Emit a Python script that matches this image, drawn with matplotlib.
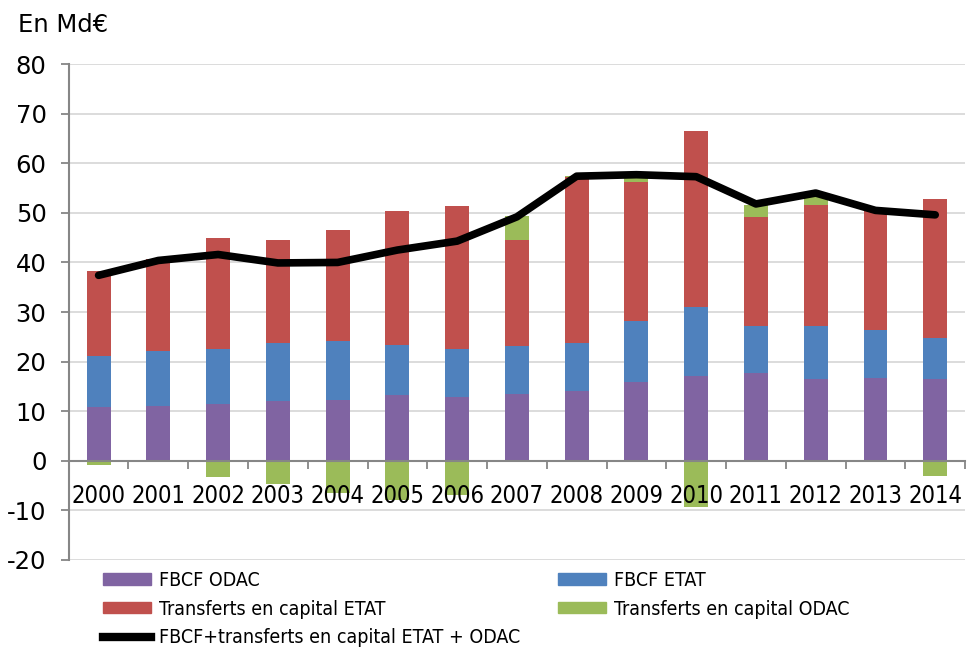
import matplotlib.pyplot as plt
from matplotlib.patches import Patch
from matplotlib.lines import Line2D
import numpy as np

plt.rcParams['axes.unicode_minus'] = False

years = ['2000', '2001', '2002', '2003', '2004', '2005', '2006', '2007',
         '2008', '2009', '2010', '2011', '2012', '2013', '2014']

# values in Md€
fbcf_odac = [10.8, 11.0, 11.4, 12.0, 12.3, 13.2, 12.9, 13.5, 14.0, 15.8, 17.0, 17.6, 16.4, 16.6, 16.4]
fbcf_etat = [10.4, 11.1, 11.1, 11.7, 11.8, 10.1, 9.6, 9.6, 9.7, 12.3, 14.1, 9.5, 10.7, 9.7, 8.3]
transf_etat = [17.0, 18.5, 22.4, 20.9, 22.4, 27.0, 28.9, 21.4, 33.6, 28.2, 35.5, 22.1, 24.5, 24.5, 28.0]
transf_odac = [-0.8, -0.2, -3.3, -4.7, -6.5, -7.9, -7.0, 4.8, 0.1, 1.4, -9.4, 2.4, 2.4, -0.3, -3.0]
total = [37.4, 40.4, 41.6, 39.9, 40.0, 42.5, 44.3, 49.2, 57.4, 57.7, 57.3, 51.8, 54.0, 50.5, 49.6]

c_purple = '#8064A2'
c_blue = '#4F81BD'
c_red = '#C0504D'
c_green = '#9BBB59'

x = np.arange(len(years))
w = 0.4

fig = plt.figure(figsize=(9.68, 6.48), dpi=100)
ax = fig.add_axes([0.071, 0.136, 0.926, 0.765])

ax.set_axisbelow(True)
ax.yaxis.grid(True, color='#D9D9D9', linewidth=1.3)

b1 = np.array(fbcf_odac)
b2 = b1 + np.array(fbcf_etat)
ax.bar(x, fbcf_odac, w, color=c_purple)
ax.bar(x, fbcf_etat, w, bottom=b1, color=c_blue)
ax.bar(x, transf_etat, w, bottom=b2, color=c_red)
# green: positive stacks on top, negative hangs below zero
tod = np.array(transf_odac)
top = b2 + np.array(transf_etat)
ax.bar(x, tod, w, bottom=np.where(tod > 0, top, 0), color=c_green)

ax.plot(x, total, color='black', linewidth=5.5, solid_joinstyle='round',
        solid_capstyle='round', zorder=5)

ax.set_xlim(-0.5, len(years) - 0.5)
ax.set_ylim(-20, 80)
ax.set_yticks(range(-20, 81, 10))
ax.tick_params(axis='y', length=6, color='#868686', width=1.3, labelsize=17.5, pad=10)

ax.spines['bottom'].set_position(('data', 0))
ax.spines['bottom'].set_color('#868686')
ax.spines['bottom'].set_linewidth(1.5)
ax.spines['bottom'].set_zorder(4)
ax.spines['left'].set_color('#868686')
ax.spines['left'].set_linewidth(1.5)
ax.spines['top'].set_visible(False)
ax.spines['right'].set_visible(False)

ax.set_xticks(x)
ax.set_xticklabels(years, fontsize=17, fontstretch='condensed')
ax.set_xticks(np.arange(-0.5, len(years), 1.0), minor=True)
ax.tick_params(axis='x', which='major', length=0, pad=17)
ax.tick_params(axis='x', which='minor', length=6, color='#868686', width=1.3)
# year labels sit on top of the negative bars
ax.xaxis.set_zorder(4)

fig.text(0.019, 0.962, 'En Md€', fontsize=17.5, va='center', ha='left')

leg_font = {'size': 14, 'stretch': 'condensed'}
left_items = [
    Patch(color=c_purple, label='FBCF ODAC'),
    Patch(color=c_red, label='Transferts en capital ETAT'),
    Line2D([0], [0], color='black', linewidth=6, label='FBCF+transferts en capital ETAT + ODAC'),
]
right_items = [
    Patch(color=c_blue, label='FBCF ETAT'),
    Patch(color=c_green, label='Transferts en capital ODAC'),
]
fig.legend(handles=left_items, loc='upper left', bbox_to_anchor=(0.106, 0.119),
           frameon=False, prop=leg_font, handlelength=2.5, handleheight=0.5,
           handletextpad=0.4, labelspacing=0.5, borderaxespad=0, borderpad=0)
fig.legend(handles=right_items, loc='upper left', bbox_to_anchor=(0.576, 0.119),
           frameon=False, prop=leg_font, handlelength=2.5, handleheight=0.5,
           handletextpad=0.4, labelspacing=0.5, borderaxespad=0, borderpad=0)

fig.savefig('out.png', dpi=100)
